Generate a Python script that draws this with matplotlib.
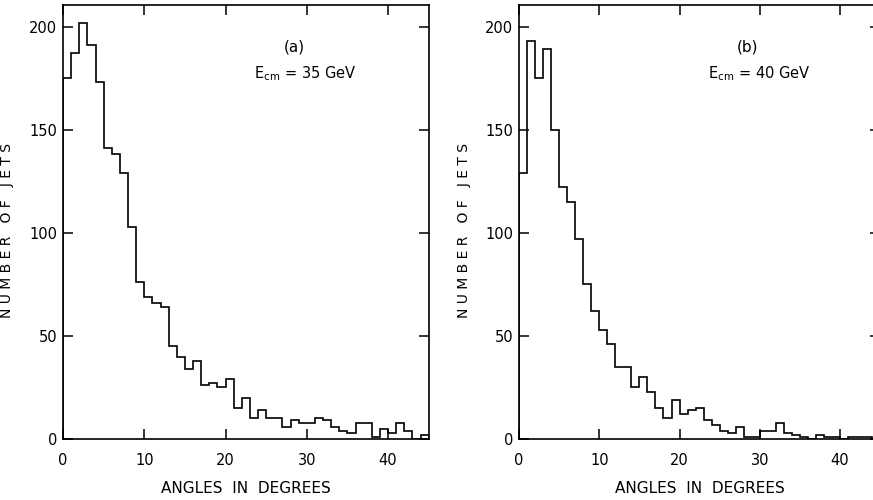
import numpy as np
import matplotlib
matplotlib.use("Agg")
import matplotlib.pyplot as plt

# angle bins (1 degree wide) and jet counts
bin_edges = np.arange(0, 46, 1)
jets_35 = [175, 187, 202, 191, 173, 141, 138, 129, 103, 76, 69, 66, 64, 45, 40,
           34, 38, 26, 27, 25, 29, 15, 20, 10, 14, 10, 10, 6, 9, 8,
           8, 10, 9, 6, 4, 3, 8, 8, 1, 5, 3, 8, 4, 0, 2]
jets_40 = [129, 193, 175, 189, 150, 122, 115, 97, 75, 62, 53, 46, 35, 35, 25,
           30, 23, 15, 10, 19, 12, 14, 15, 9, 7, 4, 3, 6, 1, 1,
           4, 4, 8, 3, 2, 1, 0, 2, 1, 1, 0, 1, 1, 1, 0]
xticks = [0, 10, 20, 30, 40]
yticks = [0, 50, 100, 150, 200]
panels = ['(a)', '(b)']
energies = ['$\\mathrm{E_{cm}}$ = 35 GeV', '$\\mathrm{E_{cm}}$ = 40 GeV']

plt.rcParams['font.family'] = 'DejaVu Sans'
plt.rcParams['mathtext.fontset'] = 'dejavusans'

fig = plt.figure(figsize=(8.73, 5), dpi=100)
ax1 = fig.add_axes([0.0722, 0.122, 0.4188, 0.868])
ax2 = fig.add_axes([0.5945, 0.122, 0.4138, 0.868])

for ax, counts, tag, en in zip([ax1, ax2], [jets_35, jets_40], panels, energies):
    ax.stairs(counts, bin_edges, color='black', linewidth=1.2)
    ax.set_xlim(0, 45)
    ax.set_ylim(0, 210.5)
    ax.set_xticks(xticks)
    ax.set_yticks(yticks)
    ax.tick_params(direction='in', length=7, width=1.1, top=True, right=True,
                   labelsize=10.5)
    ax.tick_params(axis='x', pad=10)
    ax.tick_params(axis='y', pad=4)
    for s in ax.spines.values():
        s.set_linewidth(1.2)
    ax.set_xlabel('ANGLES  IN  DEGREES', fontsize=11)
    ax.set_ylabel('N U M B E R   O F   J E T S', fontsize=10)
    ax.xaxis.set_label_coords(0.5, -0.097)
    ax.yaxis.set_label_coords(-0.133, 0.48)
    ax.text(28.5, 190, tag, fontsize=11, ha='center', va='center')
    ax.text(23.5, 177, en, fontsize=10.5, ha='left', va='center')

fig.savefig('out.png', dpi=100)
